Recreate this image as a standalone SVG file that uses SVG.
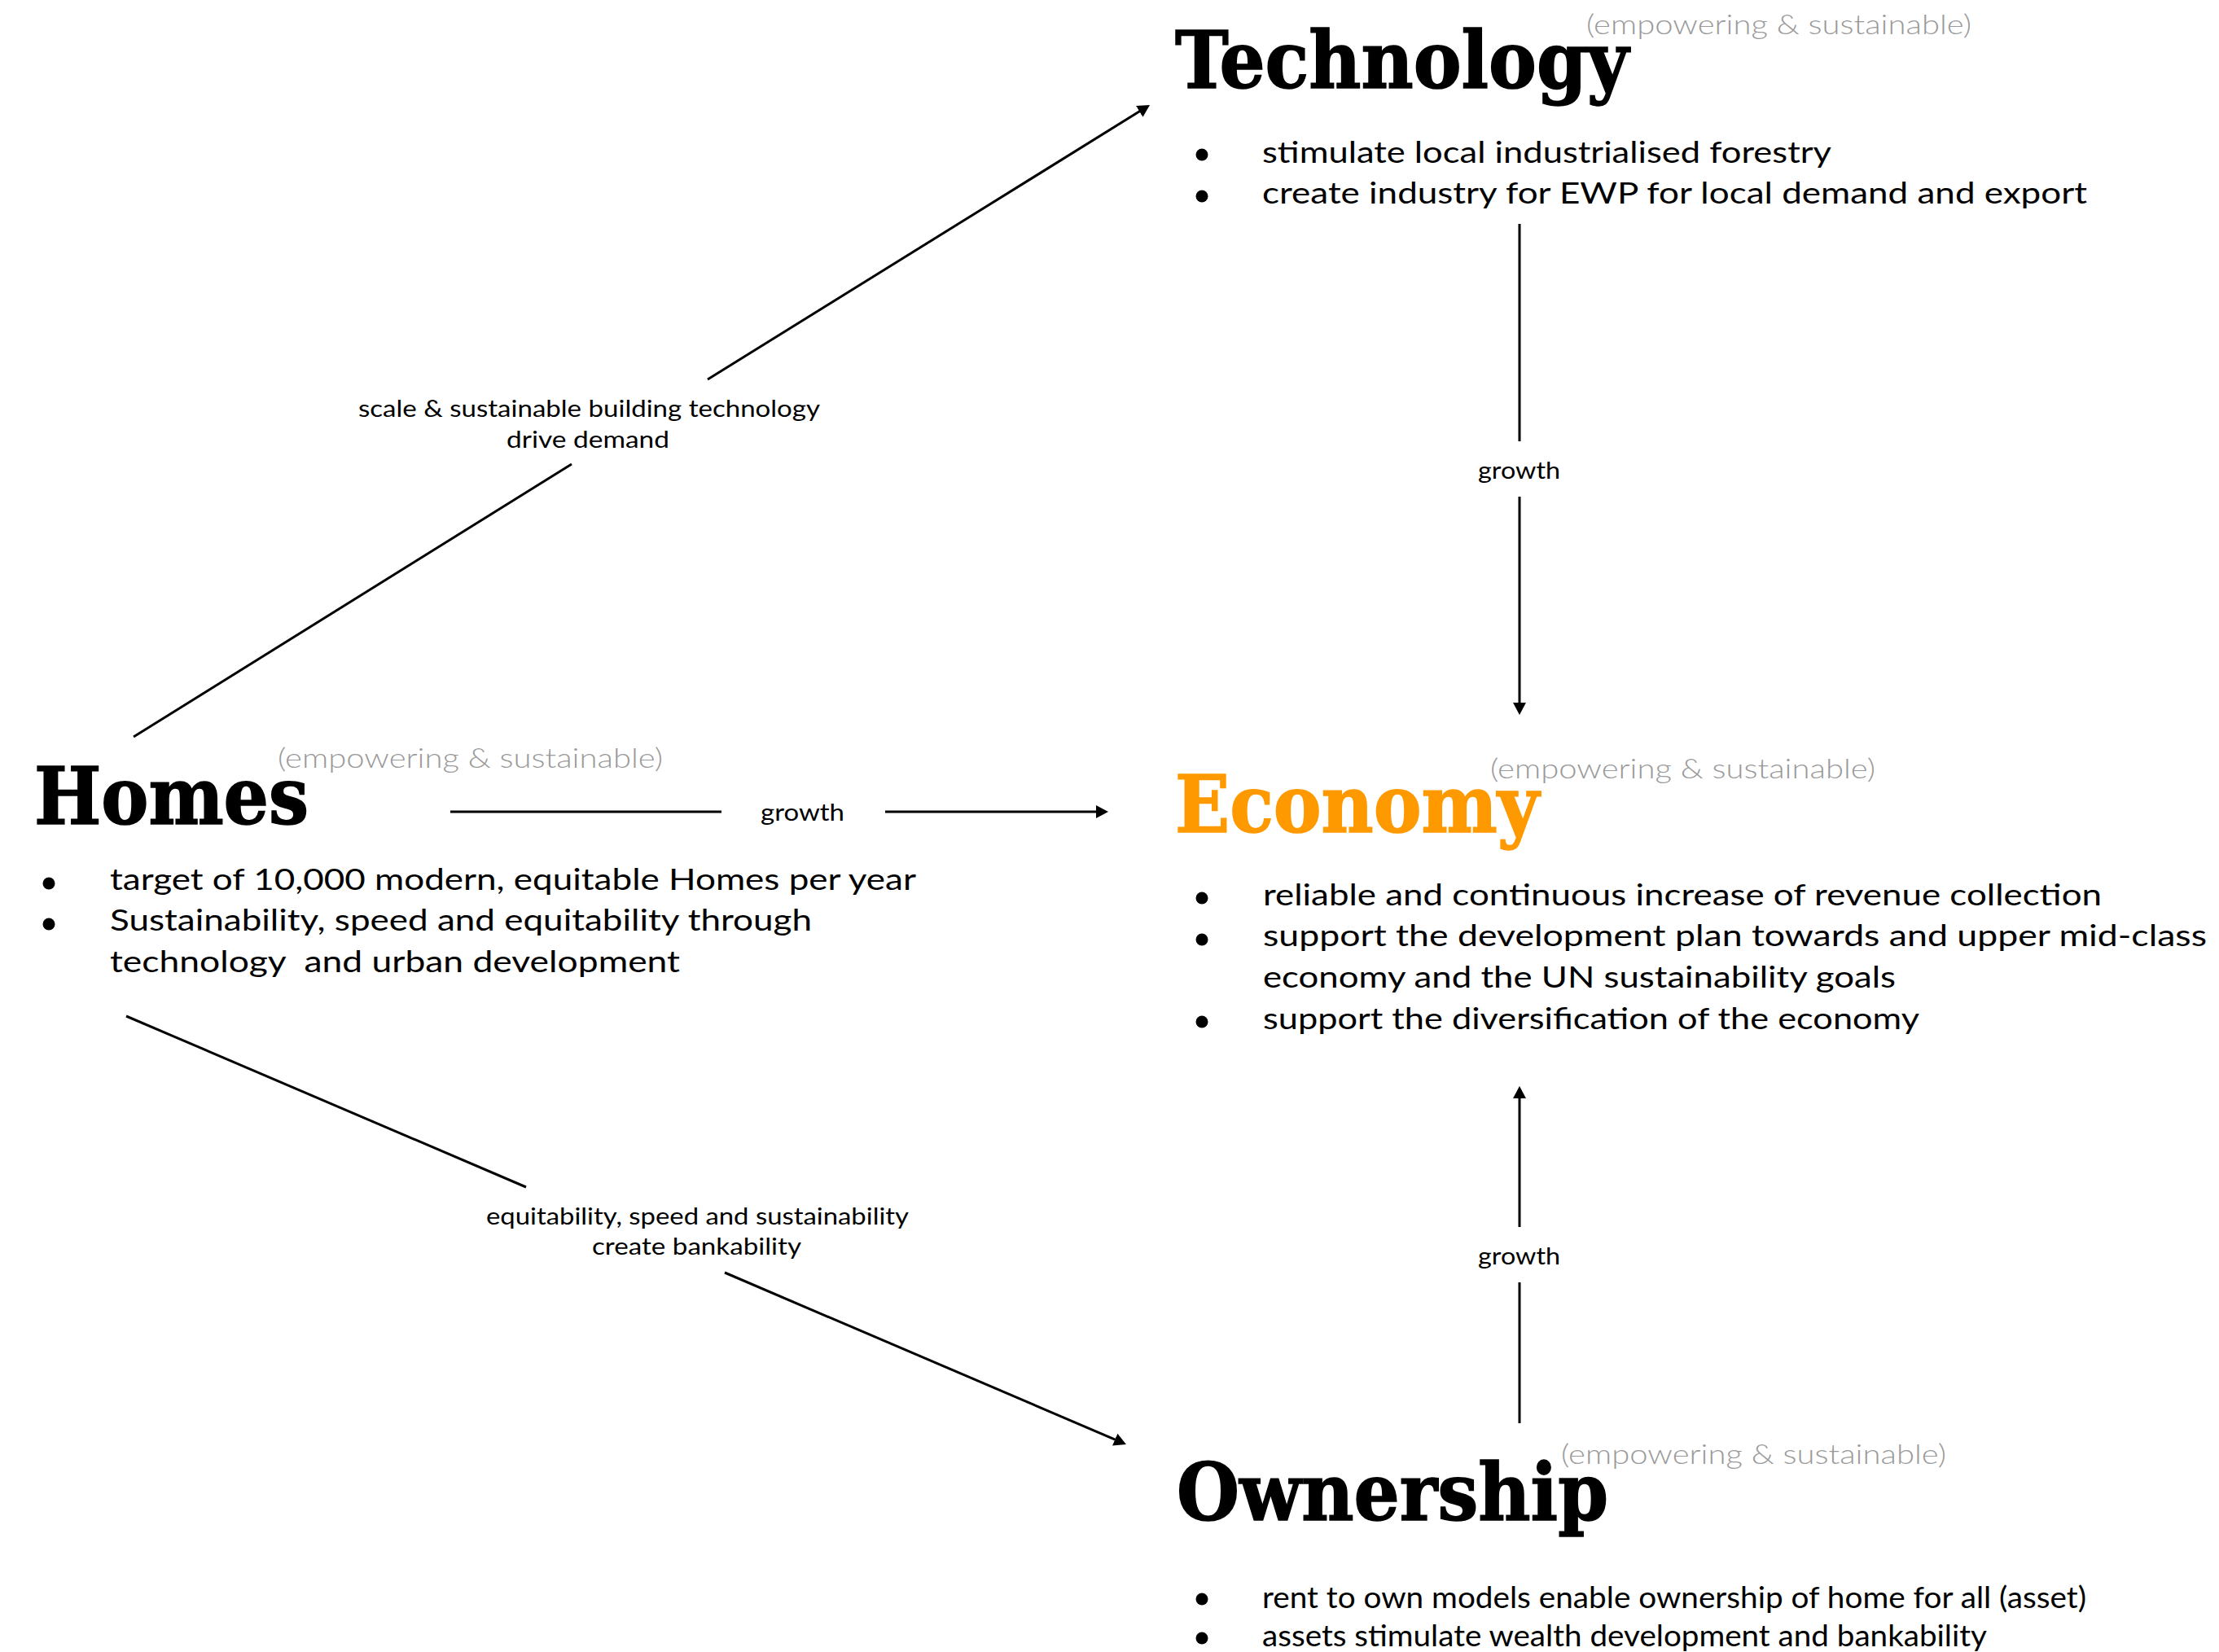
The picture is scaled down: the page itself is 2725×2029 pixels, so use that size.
<svg xmlns="http://www.w3.org/2000/svg" width="2725" height="2029" viewBox="0 0 2725 2029">
  <style>
    .title { font-family: "DejaVu Serif Condensed", "DejaVu Serif", serif; font-weight: bold; font-size: 98px; fill: #000; stroke: #000; stroke-width: 1.5; }
    .title.accent { fill: #FF9900; stroke: #FF9900; }
    .sub { font-family: Lato, "Open Sans", sans-serif; font-weight: 300; font-size: 33px; fill: #9a9a9a; }
    .item { font-family: Lato, "Open Sans", sans-serif; font-size: 37px; fill: #000; }
    .lbl { font-family: Lato, "Open Sans", sans-serif; font-size: 29px; fill: #000; }
    .dot { fill: #000; }
    .edge { stroke: #000; stroke-width: 3; fill: none; }
    .arrow { marker-end: url(#head); }
  </style>
  <defs>
    <marker id="head" markerUnits="userSpaceOnUse" markerWidth="16" markerHeight="16" refX="11" refY="8" orient="auto">
      <path d="M0,0 L15,8 L0,16 z" fill="#000"/>
    </marker>
  </defs>

  <rect width="2725" height="2029" fill="#fff"/>

  <!-- connectors and their labels -->
  <g id="connectors">
    <!-- Homes to Technology -->
    <line class="edge" x1="164" y1="905" x2="702" y2="570"/>
    <line class="edge arrow" x1="869" y1="466" x2="1408.6" y2="131.1"/>
    <text class="lbl" x="440" y="512" textLength="567" lengthAdjust="spacingAndGlyphs">scale &amp; sustainable building technology</text>
    <text class="lbl" x="622" y="550" textLength="200" lengthAdjust="spacingAndGlyphs">drive demand</text>

    <!-- Homes to Economy -->
    <line class="edge" x1="553" y1="997" x2="886" y2="997"/>
    <line class="edge arrow" x1="1087" y1="997" x2="1357" y2="997"/>
    <text class="lbl" x="934" y="1008" textLength="103" lengthAdjust="spacingAndGlyphs">growth</text>

    <!-- Homes to Ownership -->
    <line class="edge" x1="155" y1="1248" x2="646" y2="1458"/>
    <line class="edge arrow" x1="890" y1="1563" x2="1379.3" y2="1772.4"/>
    <text class="lbl" x="597" y="1504" textLength="519" lengthAdjust="spacingAndGlyphs">equitability, speed and sustainability</text>
    <text class="lbl" x="727" y="1541" textLength="257" lengthAdjust="spacingAndGlyphs">create bankability</text>

    <!-- Technology to Economy -->
    <line class="edge" x1="1866" y1="275" x2="1866" y2="542"/>
    <line class="edge arrow" x1="1866" y1="610" x2="1866" y2="874"/>
    <text class="lbl" x="1815" y="588" textLength="101" lengthAdjust="spacingAndGlyphs">growth</text>

    <!-- Ownership to Economy -->
    <line class="edge" x1="1866" y1="1748" x2="1866" y2="1575"/>
    <line class="edge arrow" x1="1866" y1="1507" x2="1866" y2="1338"/>
    <text class="lbl" x="1815" y="1553" textLength="101" lengthAdjust="spacingAndGlyphs">growth</text>
  </g>

  <!-- Technology -->
  <g id="node-technology">
    <text class="title" x="1443" y="108" textLength="557" lengthAdjust="spacingAndGlyphs">Technology</text>
    <text class="sub" x="1948" y="42" textLength="473" lengthAdjust="spacingAndGlyphs">(empowering &amp; sustainable)</text>
    <circle class="dot" cx="1476" cy="190" r="7.5"/>
    <text class="item" x="1550" y="200" textLength="699" lengthAdjust="spacingAndGlyphs">stimulate local industrialised forestry</text>
    <circle class="dot" cx="1476" cy="241" r="7.5"/>
    <text class="item" x="1550" y="250" textLength="1013" lengthAdjust="spacingAndGlyphs">create industry for EWP for local demand and export</text>
  </g>

  <!-- Homes -->
  <g id="node-homes">
    <text class="title" x="42" y="1012" textLength="337" lengthAdjust="spacingAndGlyphs">Homes</text>
    <text class="sub" x="341" y="943" textLength="473" lengthAdjust="spacingAndGlyphs">(empowering &amp; sustainable)</text>
    <circle class="dot" cx="60" cy="1085" r="7.5"/>
    <text class="item" x="135" y="1093" textLength="990" lengthAdjust="spacingAndGlyphs">target of 10,000 modern, equitable Homes per year</text>
    <circle class="dot" cx="60" cy="1135" r="7.5"/>
    <text class="item" x="135" y="1143" textLength="862" lengthAdjust="spacingAndGlyphs">Sustainability, speed and equitability through</text>
    <text class="item" x="135" y="1194" textLength="700" lengthAdjust="spacingAndGlyphs" style="white-space:pre">technology  and urban development</text>
  </g>

  <!-- Economy -->
  <g id="node-economy">
    <text class="title accent" x="1443" y="1022" textLength="447" lengthAdjust="spacingAndGlyphs">Economy</text>
    <text class="sub" x="1830" y="956" textLength="473" lengthAdjust="spacingAndGlyphs">(empowering &amp; sustainable)</text>
    <circle class="dot" cx="1476" cy="1103" r="7.5"/>
    <text class="item" x="1551" y="1112" textLength="1030" lengthAdjust="spacingAndGlyphs">reliable and continuous increase of revenue collection</text>
    <circle class="dot" cx="1476" cy="1154" r="7.5"/>
    <text class="item" x="1551" y="1162" textLength="1159" lengthAdjust="spacingAndGlyphs">support the development plan towards and upper mid-class</text>
    <text class="item" x="1551" y="1213" textLength="777" lengthAdjust="spacingAndGlyphs">economy and the UN sustainability goals</text>
    <circle class="dot" cx="1476" cy="1255" r="7.5"/>
    <text class="item" x="1551" y="1264" textLength="806" lengthAdjust="spacingAndGlyphs">support the diversification of the economy</text>
  </g>

  <!-- Ownership -->
  <g id="node-ownership">
    <text class="title" x="1445" y="1867" textLength="530" lengthAdjust="spacingAndGlyphs">Ownership</text>
    <text class="sub" x="1917" y="1798" textLength="473" lengthAdjust="spacingAndGlyphs">(empowering &amp; sustainable)</text>
    <circle class="dot" cx="1476" cy="1964" r="7.5"/>
    <text class="item" x="1550" y="1975" textLength="1012" lengthAdjust="spacingAndGlyphs">rent to own models enable ownership of home for all (asset)</text>
    <circle class="dot" cx="1476" cy="2012" r="7.5"/>
    <text class="item" x="1550" y="2022" textLength="890" lengthAdjust="spacingAndGlyphs">assets stimulate wealth development and bankability</text>
  </g>
</svg>
